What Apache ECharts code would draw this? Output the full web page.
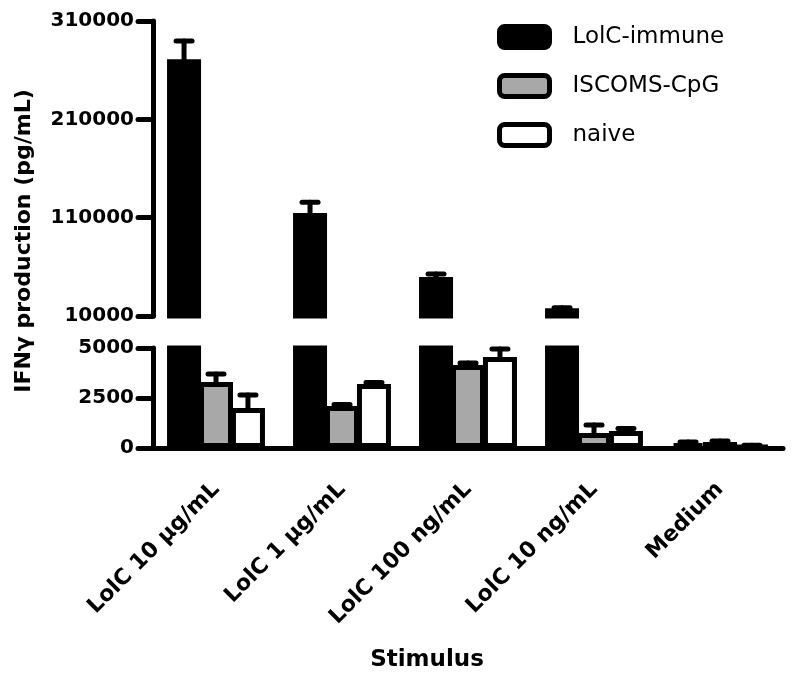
<!DOCTYPE html>
<html>
<head>
<meta charset="utf-8">
<script src="https://cdn.jsdelivr.net/npm/echarts@6/dist/echarts.min.js"></script>
<style>
  html, body { margin: 0; padding: 0; background: #fff; }
  #chart { width: 800px; height: 681px; }
</style>
</head>
<body>
<div id="chart"></div>
<script>
  // values (pg/mL)
  const stimuli = ['LolC 10 μg/mL', 'LolC 1 μg/mL', 'LolC 100 ng/mL', 'LolC 10 ng/mL', 'Medium']
  const groups = ['LolC-immune', 'ISCOMS-CpG', 'naive']
  const lolcImmune = [271000, 114700, 49700, 18000, 250]
  const lolcImmuneErr = [18700, 11000, 3000, 300, 50]
  const iscomsCpg = [3300, 2100, 4150, 750, 300]
  const iscomsCpgErr = [400, 80, 100, 400, 50]
  const naive = [2000, 3200, 4550, 850, 100]
  const naiveErr = [650, 80, 400, 120, 40]

  const upperTicks = [10000, 110000, 210000, 310000]
  const lowerTicks = [0, 2500, 5000]

  const fills = ['#000000', '#a8a8a8', '#ffffff']
  const values = [lolcImmune, iscomsCpg, naive]
  const errors = [lolcImmuneErr, iscomsCpgErr, naiveErr]

  const font = 'DejaVu Sans'
  const barWidth = 34
  const barGap = -0.06 // bars overlap by their border
  const seg = {
    upper: {min: 10000, max: 310000},
    lower: {min: 0, max: 5000}
  }

  // error bar data for one axis segment: [category, value, err, group]
  function errData(range) {
    const out = []
    values.forEach((vals, g) => {
      vals.forEach((v, i) => {
        if (v >= range.min && v <= range.max) out.push([i, v, errors[g][i], g])
      })
    })
    return out
  }

  function renderErr(params, api) {
    const g = api.value(3)
    const dx = (g - 1) * barWidth * (1 + barGap)
    const p0 = api.coord([api.value(0), api.value(1)])
    const p1 = api.coord([api.value(0), api.value(1) + api.value(2)])
    const x = p0[0] + dx
    const style = {stroke: '#000', lineWidth: 5, lineCap: 'round'}
    return {
      type: 'group',
      children: [
        {type: 'line', shape: {x1: x, y1: p0[1], x2: x, y2: p1[1]}, style: style},
        {type: 'line', shape: {x1: x - 8, y1: p1[1], x2: x + 8, y2: p1[1]}, style: style}
      ]
    }
  }

  const axisLine = {lineStyle: {color: '#000', width: 5, cap: 'round'}}
  const axisTick = {length: 15, lineStyle: {color: '#000', width: 5, cap: 'round'}}
  const tickLabel = {
    color: '#000', fontFamily: font, fontWeight: 'bold', fontSize: 20, margin: 19,
    formatter: v => String(v)
  }

  const series = []
  // grid 0 = lower (0-5000), grid 1 = upper (10000-310000)
  ;[0, 1].forEach(k => {
    groups.forEach((name, g) => {
      series.push({
        name: name,
        type: 'bar',
        xAxisIndex: k,
        yAxisIndex: k,
        data: values[g],
        barWidth: barWidth,
        barGap: (barGap * 100) + '%',
        clip: true,
        itemStyle: {color: fills[g], borderColor: '#000', borderWidth: 5},
        emphasis: {disabled: true}
      })
    })
    series.push({
      type: 'custom',
      xAxisIndex: k,
      yAxisIndex: k,
      renderItem: renderErr,
      data: errData(k === 0 ? seg.lower : seg.upper),
      z: 3
    })
  })

  const chart = echarts.init(document.getElementById('chart'))
  chart.setOption({
    animation: false,
    legend: {
      orient: 'vertical',
      left: 492,
      top: 19,
      itemWidth: 50,
      itemHeight: 21,
      itemGap: 23,
      data: groups.map((name, g) => ({
        name: name,
        itemStyle: {color: fills[g], borderColor: '#000', borderWidth: 5}
      })),
      textStyle: {fontFamily: font, fontSize: 23, color: '#000', padding: [0, 0, 0, 18]},
      selectedMode: false
    },
    grid: [
      {left: 153, right: 17, top: 348, height: 100},
      {left: 153, right: 17, top: 21, height: 295}
    ],
    xAxis: [
      {
        type: 'category',
        gridIndex: 0,
        data: stimuli,
        axisLine: axisLine,
        axisTick: Object.assign({alignWithLabel: true}, axisTick),
        axisLabel: {
          color: '#000', fontFamily: font, fontWeight: 'bold', fontSize: 22,
          rotate: 45, margin: 38, interval: 0
        }
      },
      {
        type: 'category',
        gridIndex: 1,
        data: stimuli,
        show: false
      }
    ],
    yAxis: [
      {
        type: 'value',
        gridIndex: 0,
        min: seg.lower.min,
        max: seg.lower.max,
        axisLine: Object.assign({show: true}, axisLine),
        axisTick: Object.assign({show: true, customValues: lowerTicks}, axisTick),
        axisLabel: Object.assign({customValues: lowerTicks}, tickLabel),
        splitLine: {show: false}
      },
      {
        type: 'value',
        gridIndex: 1,
        min: seg.upper.min,
        max: seg.upper.max,
        axisLine: Object.assign({show: true}, axisLine),
        axisTick: Object.assign({show: true, customValues: upperTicks}, axisTick),
        axisLabel: Object.assign({customValues: upperTicks}, tickLabel),
        splitLine: {show: false}
      }
    ],
    graphic: [
      {
        type: 'text',
        x: 24,
        y: 241,
        rotation: Math.PI / 2,
        style: {
          text: 'IFNγ production (pg/mL)',
          fontFamily: font, fontWeight: 'bold', fontSize: 22, fill: '#000',
          align: 'center', verticalAlign: 'middle'
        }
      },
      {
        type: 'text',
        x: 427,
        y: 660,
        style: {
          text: 'Stimulus',
          fontFamily: font, fontWeight: 'bold', fontSize: 23, fill: '#000',
          align: 'center', verticalAlign: 'middle'
        }
      }
    ],
    series: series
  })
</script>
</body>
</html>
